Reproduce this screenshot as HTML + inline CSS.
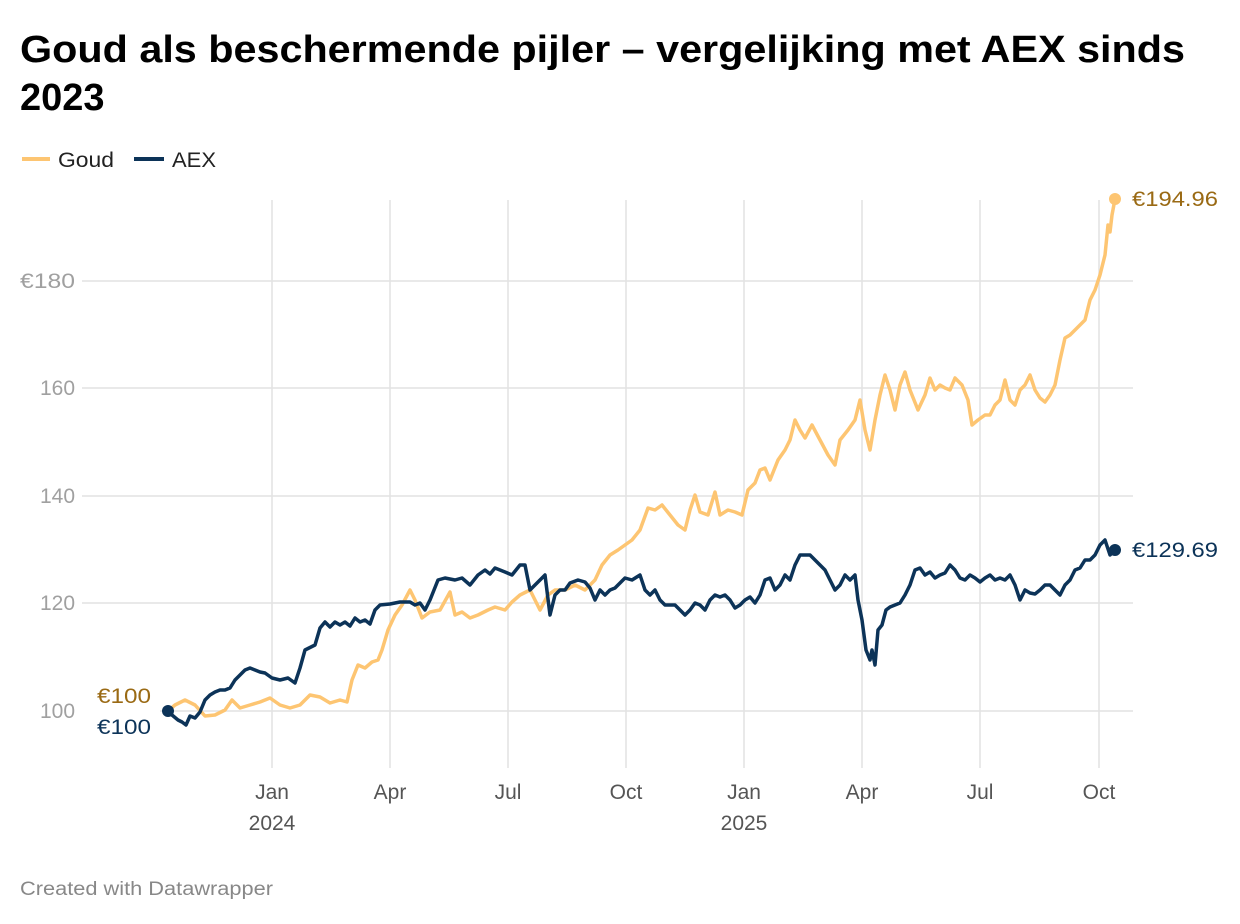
<!DOCTYPE html>
<html><head><meta charset="utf-8"><style>
body{margin:0;background:#fff;}
svg{display:block;font-family:"Liberation Sans",Arial,sans-serif;}
</style></head><body>
<svg width="1240" height="924" viewBox="0 0 1240 924" xmlns="http://www.w3.org/2000/svg">
<text x="20" y="62" font-size="38" font-weight="bold" fill="#000" textLength="1165" lengthAdjust="spacingAndGlyphs">Goud als beschermende pijler – vergelijking met AEX sinds</text>
<text x="20" y="110" font-size="38" font-weight="bold" fill="#000">2023</text>
<line x1="22" y1="159" x2="50" y2="159" stroke="#fdc572" stroke-width="4"/>
<text x="58" y="167" font-size="21" fill="#222" textLength="56" lengthAdjust="spacingAndGlyphs">Goud</text>
<line x1="134" y1="159" x2="164" y2="159" stroke="#0c3358" stroke-width="4"/>
<text x="172" y="167" font-size="21" fill="#222" textLength="44" lengthAdjust="spacingAndGlyphs">AEX</text>
<g stroke="#e2e2e2" stroke-width="1.5">
<line x1="272" y1="200" x2="272" y2="768"/><line x1="390" y1="200" x2="390" y2="768"/>
<line x1="508" y1="200" x2="508" y2="768"/><line x1="626" y1="200" x2="626" y2="768"/>
<line x1="744" y1="200" x2="744" y2="768"/><line x1="862" y1="200" x2="862" y2="768"/>
<line x1="980" y1="200" x2="980" y2="768"/><line x1="1099" y1="200" x2="1099" y2="768"/>
<line x1="82" y1="281" x2="1133" y2="281"/><line x1="82" y1="388" x2="1133" y2="388"/>
<line x1="82" y1="496" x2="1133" y2="496"/><line x1="82" y1="603" x2="1133" y2="603"/>
<line x1="160" y1="711" x2="1133" y2="711"/>
</g>
<g font-size="21" fill="#a0a0a0">
<text x="20" y="288" textLength="55" lengthAdjust="spacingAndGlyphs">€180</text><text x="40" y="395" textLength="35">160</text><text x="40" y="503" textLength="35">140</text><text x="40" y="610" textLength="35">120</text><text x="40" y="718" textLength="35">100</text>
</g>
<g font-size="21" fill="#555" text-anchor="middle">
<text x="272" y="799">Jan</text><text x="272" y="830">2024</text>
<text x="390" y="799">Apr</text><text x="508" y="799">Jul</text><text x="626" y="799">Oct</text>
<text x="744" y="799">Jan</text><text x="744" y="830">2025</text>
<text x="862" y="799">Apr</text><text x="980" y="799">Jul</text><text x="1099" y="799">Oct</text>
</g>
<polyline fill="none" stroke="#fdc572" stroke-width="3.5" stroke-linejoin="round" points="168,711 175,705 185,700 195,705 205,716 215,715 225,710 232,700 240,708 250,705 260,702 270,698 280,705 290,708 300,705 310,695 320,697 330,703 340,700 347,702 352,680 358,665 365,668 372,662 378,660 382,650 388,630 395,615 402,605 410,590 415,600 422,618 430,612 440,610 450,592 455,615 462,612 470,618 478,615 488,610 495,607 505,610 512,602 520,595 530,590 540,610 548,595 555,590 565,590 575,585 585,590 595,580 602,565 610,555 618,550 625,545 632,540 640,530 648,508 655,510 662,505 670,515 678,525 685,530 690,510 695,495 700,512 708,515 715,492 720,515 728,510 735,512 742,515 748,490 755,483 760,470 765,468 770,480 778,460 785,450 790,440 795,420 800,430 805,438 812,425 820,440 828,455 835,465 840,440 848,430 855,420 860,400 865,430 870,450 875,420 880,395 885,375 890,390 895,410 900,385 905,372 910,390 918,410 925,395 930,378 935,390 940,385 945,388 950,390 955,378 962,385 968,400 972,425 978,420 985,415 990,415 995,405 1000,400 1005,380 1010,400 1015,405 1020,390 1025,385 1030,375 1035,390 1040,398 1045,402 1050,395 1055,385 1060,360 1065,338 1070,335 1075,330 1080,325 1085,320 1090,300 1095,290 1100,275 1105,255 1108,225 1110,232 1112,215 1115,199"/>
<polyline fill="none" stroke="#0c3358" stroke-width="3.5" stroke-linejoin="round" points="168,711 172,715 178,720 182,722 186,725 190,716 195,718 200,712 205,700 210,695 215,692 220,690 225,690 230,688 235,680 240,675 245,670 250,668 255,670 260,672 265,673 272,678 280,680 288,678 295,683 300,668 305,650 315,645 320,628 325,622 330,627 335,622 340,625 345,622 350,626 355,618 360,622 365,620 370,624 375,610 380,605 390,604 400,602 410,602 415,605 420,603 425,610 430,600 438,580 445,578 455,580 462,578 470,585 478,575 485,570 490,574 495,568 505,572 512,575 520,565 525,565 530,590 535,585 540,580 545,575 550,615 555,595 560,590 565,590 570,583 578,580 585,582 590,588 595,600 600,590 605,595 610,590 615,588 620,583 625,578 632,580 640,575 645,590 650,595 655,590 660,600 665,605 670,605 675,605 680,610 685,615 690,610 695,603 700,605 705,610 710,600 715,595 720,597 725,595 730,600 735,608 740,605 745,600 750,597 755,603 760,595 765,580 770,578 775,590 780,585 785,575 790,580 795,565 800,555 805,555 810,555 815,560 820,565 825,570 830,580 835,590 840,585 845,575 850,580 855,575 858,600 862,620 866,650 870,660 872,650 875,665 878,630 882,625 886,610 890,607 895,605 900,603 905,595 910,585 915,570 920,568 925,575 930,572 935,578 940,575 945,573 950,565 955,570 960,578 965,580 970,575 975,578 980,582 985,578 990,575 995,580 1000,578 1005,580 1010,575 1015,585 1020,600 1025,590 1030,593 1035,594 1040,590 1045,585 1050,585 1055,590 1060,595 1065,585 1070,580 1075,570 1080,568 1085,560 1090,560 1095,555 1100,545 1105,540 1110,555 1115,550"/>
<circle cx="1115" cy="199" r="6" fill="#fdc572"/>
<circle cx="1115" cy="550" r="6" fill="#0c3358"/>
<circle cx="168" cy="711" r="6" fill="#0c3358"/>
<text x="1132" y="206" font-size="21" fill="#9a6a14" textLength="86" lengthAdjust="spacingAndGlyphs">€194.96</text>
<text x="1132" y="557" font-size="21" fill="#0c3358" textLength="86" lengthAdjust="spacingAndGlyphs">€129.69</text>
<text x="97" y="703" font-size="21" fill="#9a6a14" textLength="54" lengthAdjust="spacingAndGlyphs">€100</text>
<text x="97" y="734" font-size="21" fill="#0c3358" textLength="54" lengthAdjust="spacingAndGlyphs">€100</text>
<text x="20" y="895" font-size="19" fill="#888" textLength="253" lengthAdjust="spacingAndGlyphs">Created with Datawrapper</text>
</svg>
</body></html>
